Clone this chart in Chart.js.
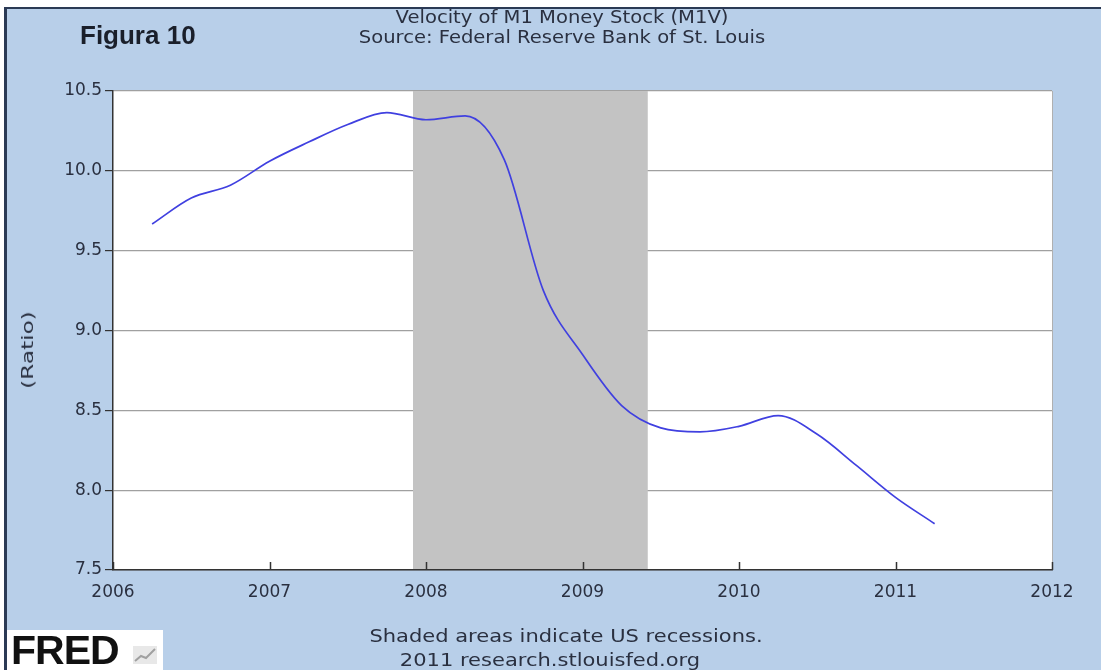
<!DOCTYPE html>
<html><head><meta charset="utf-8">
<script src="https://cdn.jsdelivr.net/npm/chart.js@4/dist/chart.umd.min.js"></script>
<style>
html,body{margin:0;padding:0;background:#fff;}
#wrap{position:relative;width:1101px;height:670px;overflow:hidden;}
#frame{position:absolute;left:4px;top:7px;right:0;bottom:0;background:#b8cfe9;border-left:3px solid #2b3a55;border-top:2px solid #2b3a55;}
#cv{position:absolute;left:0;top:0;}
.t{position:absolute;font-family:"DejaVu Sans",sans-serif;color:#2a3040;white-space:nowrap;}
.ttl{font-size:17px;line-height:20px;transform:translateX(-50%) scaleX(1.15);}
.ftr{font-size:17.5px;line-height:20px;transform:translateX(-50%) scaleX(1.2);}
#fig{left:80px;top:21px;font-family:"Liberation Sans",Arial,sans-serif;font-weight:bold;font-size:26px;line-height:28px;color:#1a1f2a;}
#ratio{left:28px;top:350px;font-size:16px;line-height:18px;transform:translate(-50%,-50%) rotate(-90deg) scaleX(1.45);}
#logo{position:absolute;left:7px;top:630px;width:156px;height:40px;background:#fff;}
#logo span{position:absolute;left:4px;top:0px;font-family:"Liberation Sans",Arial,sans-serif;font-weight:bold;font-size:41px;line-height:40px;color:#111;letter-spacing:-1px;}
#logo svg{position:absolute;left:124px;top:15px;}
</style></head>
<body><div id="wrap"><div id="frame"></div>
<canvas id="cv" width="1101" height="670"></canvas>
<div class="t" id="fig">Figura 10</div>
<div class="t ttl" style="left:562px;top:7px;">Velocity of M1 Money Stock (M1V)</div>
<div class="t ttl" style="left:562px;top:27px;">Source: Federal Reserve Bank of St. Louis</div>
<div class="t" id="ratio">(Ratio)</div>
<div class="t ftr" style="left:566px;top:626px;">Shaded areas indicate US recessions.</div>
<div class="t ftr" style="left:550px;top:650px;">2011 research.stlouisfed.org</div>
<div id="logo"><span>FRED</span><svg width="28" height="20" viewBox="0 0 28 20"><rect x="2" y="1" width="24" height="18" fill="#e8e8e8"/><polyline points="4,16 10,11 15,13 24,4" fill="none" stroke="#a0a0a0" stroke-width="2"/></svg></div>
</div>
<script>
// Quarterly observations (decimal year of quarter start) and M1 velocity values
const quarterDates = [2006.25, 2006.5, 2006.75, 2007.0, 2007.25, 2007.5, 2007.75,
  2008.0, 2008.25, 2008.5, 2008.75, 2009.0, 2009.25, 2009.5, 2009.75,
  2010.0, 2010.25, 2010.5, 2010.75, 2011.0, 2011.25];
const m1v = [9.667, 9.83, 9.91, 10.06, 10.18, 10.29, 10.365,
  10.32, 10.344, 10.07, 9.25, 8.85, 8.53, 8.39, 8.365,
  8.40, 8.467, 8.35, 8.155, 7.955, 7.79];
const recession = [2007.917, 2009.417];
const xTicks = [2006, 2007, 2008, 2009, 2010, 2011, 2012];
const yTicks = [7.5, 8.0, 8.5, 9.0, 9.5, 10.0, 10.5];

const fredPlugin = {
  id: 'fred',
  beforeDraw(chart) {
    const {ctx, chartArea: a} = chart;
    ctx.save();
    ctx.fillStyle = '#ffffff';
    ctx.fillRect(a.left, a.top, a.right - a.left, a.bottom - a.top);
    ctx.restore();
  },
  beforeDatasetsDraw(chart) {
    const {ctx, chartArea: a, scales: {x}} = chart;
    const x0 = x.getPixelForValue(recession[0]);
    const x1 = x.getPixelForValue(recession[1]);
    ctx.save();
    ctx.fillStyle = '#c3c3c3';
    ctx.fillRect(x0, a.top, x1 - x0, a.bottom - a.top - 1);
    ctx.strokeStyle = '#b0b0b0';
    ctx.lineWidth = 1;
    ctx.beginPath();
    ctx.moveTo(a.right + 0.5, a.top);
    ctx.lineTo(a.right + 0.5, a.bottom);
    ctx.stroke();
    ctx.restore();
  },
  afterDatasetsDraw(chart) {
    const {ctx, chartArea: a, scales: {x}} = chart;
    ctx.save();
    ctx.strokeStyle = '#333';
    ctx.lineWidth = 1.5;
    ctx.beginPath();
    xTicks.forEach(v => {
      const px = Math.round(x.getPixelForValue(v)) + 0.5;
      ctx.moveTo(px, a.bottom);
      ctx.lineTo(px, a.bottom - 8);
    });
    ctx.stroke();
    ctx.restore();
  }
};

new Chart(document.getElementById('cv'), {
  type: 'line',
  data: {
    datasets: [{
      data: quarterDates.map((d, i) => ({x: d, y: m1v[i]})),
      borderColor: '#4040e0',
      borderWidth: 1.7,
      pointRadius: 0,
      fill: false,
      tension: 0,
      cubicInterpolationMode: 'monotone'
    }]
  },
  options: {
    responsive: false,
    animation: false,
    devicePixelRatio: 1,
    layout: {padding: {left: 0, top: 91, right: 49, bottom: 70}},
    plugins: {legend: {display: false}, tooltip: {enabled: false}, title: {display: false}},
    scales: {
      x: {
        type: 'linear', min: 2006, max: 2012,
        afterFit(s) { s.height = 30; },
        afterBuildTicks(s) { s.ticks = xTicks.map(v => ({value: v})); },
        grid: {display: true, drawOnChartArea: false, drawTicks: false},
        border: {display: true, color: '#333', width: 1.5},
        ticks: {padding: 12, color: '#2a3040', font: {family: 'DejaVu Sans', size: 17}, callback: v => String(v), maxRotation: 0, autoSkip: false}
      },
      y: {
        type: 'linear', min: 7.5, max: 10.5,
        afterFit(s) { s.width = 113; },
        afterBuildTicks(s) { s.ticks = yTicks.map(v => ({value: v})); },
        grid: {color: '#a0a0a0', lineWidth: 1.2, tickColor: '#333', tickLength: 8, drawTicks: true},
        border: {display: true, color: '#333', width: 1.5},
        ticks: {padding: 3, color: '#2a3040', font: {family: 'DejaVu Sans', size: 17}, callback: v => Number(v).toFixed(1), autoSkip: false}
      }
    }
  },
  plugins: [fredPlugin]
});
</script>
</body></html>
